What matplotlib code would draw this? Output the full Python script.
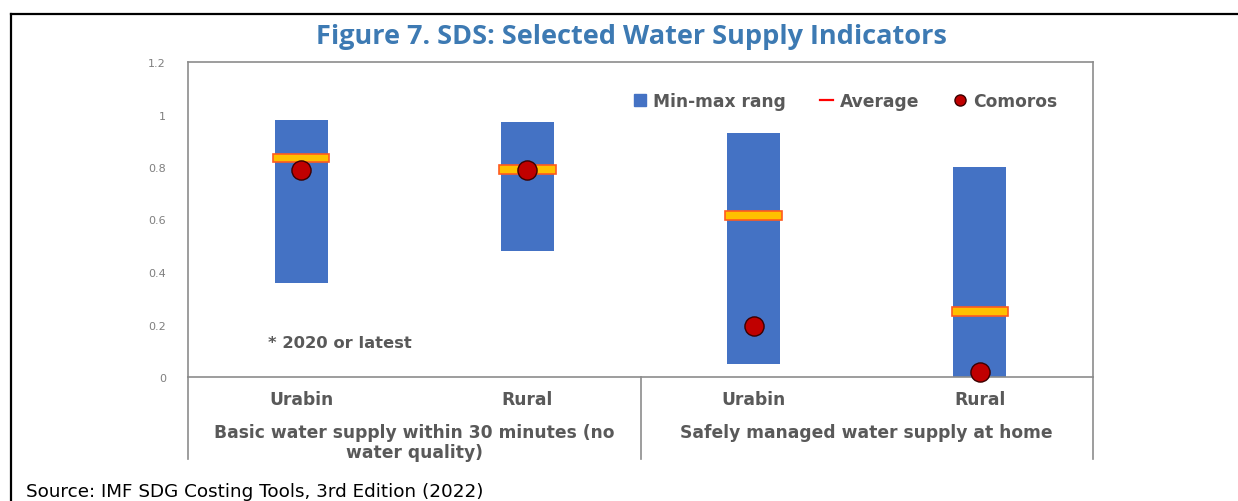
import matplotlib
matplotlib.use('Agg')
import matplotlib.pyplot as plt
from matplotlib.lines import Line2D

plt.rcParams['font.family'] = ['DejaVu Sans']

# -----------------------------
# DATA
# -----------------------------
categories = ['Urabin', 'Rural', 'Urabin', 'Rural']
groups = ['Basic water supply within 30 minutes (no\nwater quality)',
          'Safely managed water supply at home']
range_min = [0.36, 0.48, 0.05, 0.0]
range_max = [0.98, 0.97, 0.93, 0.80]
average = [0.835, 0.79, 0.615, 0.25]
comoros = [0.79, 0.79, 0.195, 0.018]
yticks = [0, 0.2, 0.4, 0.6, 0.8, 1, 1.2]

BLUE = '#4472C4'
GOLD = '#FFC000'
ORANGE = '#FF5A1F'
DARKRED = '#C00000'
GRAY = '#595959'
LBL = 12.3

fig = plt.figure(figsize=(12.38, 5.02), dpi=100)
W, H = 1238, 502

# outer frame (top + left)
fig.add_artist(Line2D([11 / W, 11 / W], [0, 1 - 15 / H], transform=fig.transFigure, color='black', lw=1.6))
fig.add_artist(Line2D([11 / W, 1], [1 - 15 / H, 1 - 15 / H], transform=fig.transFigure, color='black', lw=1.6))

fig.text(631 / W, 1 - 37 / H, 'Figure 7. SDS: Selected Water Supply Indicators',
         ha='center', va='center', fontsize=19.5, fontweight='bold', color='#3D7AB3',
         family=['Open Sans', 'DejaVu Sans'])

# -----------------------------
# AXES
# -----------------------------
ax = fig.add_axes([188 / W, 1 - 378 / H, (1093 - 188) / W, (378 - 63) / H])
x = list(range(len(categories)))

heights = [hi - lo for lo, hi in zip(range_min, range_max)]
ax.bar(x, heights, bottom=range_min, width=0.235, color=BLUE, zorder=2)

avg_h = 0.032
ax.bar(x, [avg_h] * len(x), bottom=[a - avg_h / 2 for a in average], width=0.25,
       color=GOLD, edgecolor=ORANGE, linewidth=1.2, zorder=3)
ax.scatter(x, comoros, s=190, color=DARKRED, edgecolor='#3A0000', linewidth=1.0, zorder=4, clip_on=False)

ax.set_xlim(-0.5, 3.5)
ax.set_ylim(0, 1.2)
ax.set_yticks(yticks)
ax.set_yticklabels([f'{v:g}' for v in yticks])
ax.tick_params(axis='y', length=0, labelsize=8, labelcolor='#7F7F7F', pad=16)
ax.set_xticks(x)
ax.set_xticklabels(categories)
ax.tick_params(axis='x', length=0, labelsize=LBL, labelcolor=GRAY, pad=9.5)
for lbl in ax.get_xticklabels():
    lbl.set_fontweight('bold')

for sp in ax.spines.values():
    sp.set_color('#8C8C8C')
    sp.set_linewidth(1.2)

# group separators below the axis
sep_depth = (460 - 378) / (378 - 63)
for sx in [0, 0.5, 1]:
    ax.plot([sx, sx], [0, -sep_depth], transform=ax.transAxes, color='#8C8C8C', lw=1.2, clip_on=False)

for gx, g in zip([0.25, 0.75], groups):
    ax.text(gx, -(424 - 378) / (378 - 63), g, transform=ax.transAxes, ha='center', va='top',
            fontsize=LBL, color=GRAY, fontweight='bold', linespacing=1.12)

ax.text((268 - 188) / 905, (378 - 343) / 315, '* 2020 or latest', transform=ax.transAxes,
        ha='left', va='center', fontsize=11.8, color=GRAY, fontweight='bold')

handles = [
    Line2D([], [], marker='s', linestyle='none', markersize=8, color=BLUE),
    Line2D([], [], color='#FF0000', lw=1.6),
    Line2D([], [], marker='o', linestyle='none', markersize=8, color=DARKRED, markeredgecolor='#3A0000'),
]
leg = ax.legend(handles, ['Min-max rang', 'Average', 'Comoros'], ncol=3, frameon=False,
                loc='center', bbox_to_anchor=(0.726, 0.877), fontsize=LBL,
                handlelength=0.8, handletextpad=0.35, columnspacing=2.0)
for t in leg.get_texts():
    t.set_color(GRAY)
    t.set_fontweight('bold')

fig.text(26 / W, 1 - 497 / H, 'Source: IMF SDG Costing Tools, 3rd Edition (2022)',
         ha='left', va='baseline', fontsize=13.2, color='black',
         family=['Liberation Sans Narrow', 'DejaVu Sans'])

plt.savefig('out.png', dpi=100)
plt.close()
